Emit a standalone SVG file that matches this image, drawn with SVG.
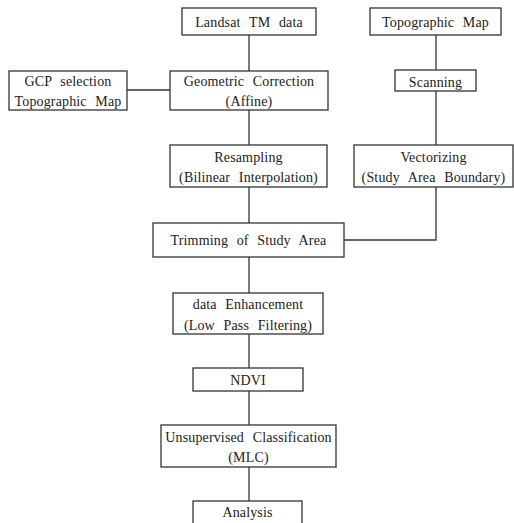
<svg xmlns="http://www.w3.org/2000/svg" width="514" height="523" viewBox="0 0 514 523">
<style>
.box{fill:#fff;stroke:#333;stroke-width:1.3}
.t{font-family:'Liberation Serif','Times New Roman',serif;font-size:14px;fill:#222;text-anchor:middle;letter-spacing:0.15px;word-spacing:5px}
.c{fill:none;stroke:#333;stroke-width:1.3}
</style>
<rect width="514" height="523" fill="#fff"/>
<g id="connectors">
<path class="c" d="M249 35V71"/>
<path class="c" d="M127 90H170"/>
<path class="c" d="M249 110V145"/>
<path class="c" d="M436 35V70"/>
<path class="c" d="M436 91V145"/>
<path class="c" d="M249 187V223"/>
<path class="c" d="M436 187V240H344"/>
<path class="c" d="M249 257V293"/>
<path class="c" d="M249 334V368"/>
<path class="c" d="M249 391V425"/>
<path class="c" d="M249 467V501"/>
</g>
<g id="landsat"><rect class="box" x="182" y="8" width="134" height="27"/><text class="t" x="249" y="27">Landsat TM data</text></g>
<g id="gcp"><rect class="box" x="9" y="71" width="118" height="39"/><text class="t" x="68" y="86">GCP selection</text><text class="t" x="68" y="106">Topographic Map</text></g>
<g id="geometric"><rect class="box" x="170" y="71" width="158" height="39"/><text class="t" x="249" y="86">Geometric Correction</text><text class="t" x="249" y="106">(Affine)</text></g>
<g id="topomap"><rect class="box" x="370" y="8" width="131" height="27"/><text class="t" x="435.5" y="27">Topographic Map</text></g>
<g id="scanning"><rect class="box" x="395" y="70" width="81" height="21"/><text class="t" x="435.5" y="87">Scanning</text></g>
<g id="resampling"><rect class="box" x="170" y="145" width="157" height="42"/><text class="t" x="248.5" y="162">Resampling</text><text class="t" x="248.5" y="182">(Bilinear Interpolation)</text></g>
<g id="vectorizing"><rect class="box" x="354" y="145" width="159" height="42"/><text class="t" x="433.5" y="162">Vectorizing</text><text class="t" x="433.5" y="182">(Study Area Boundary)</text></g>
<g id="trimming"><rect class="box" x="153" y="223" width="191" height="34"/><text class="t" x="248.5" y="245">Trimming of Study Area</text></g>
<g id="enhancement"><rect class="box" x="173" y="293" width="150" height="41"/><text class="t" x="248" y="309">data Enhancement</text><text class="t" x="248" y="330">(Low Pass Filtering)</text></g>
<g id="ndvi"><rect class="box" x="193" y="368" width="110" height="23"/><text class="t" x="248" y="385">NDVI</text></g>
<g id="unsupervised"><rect class="box" x="161" y="425" width="175" height="42"/><text class="t" x="248.5" y="442">Unsupervised Classification</text><text class="t" x="248.5" y="462">(MLC)</text></g>
<g id="analysis"><rect class="box" x="193" y="501" width="109" height="30"/><text class="t" x="247.5" y="517">Analysis</text></g>
</svg>
